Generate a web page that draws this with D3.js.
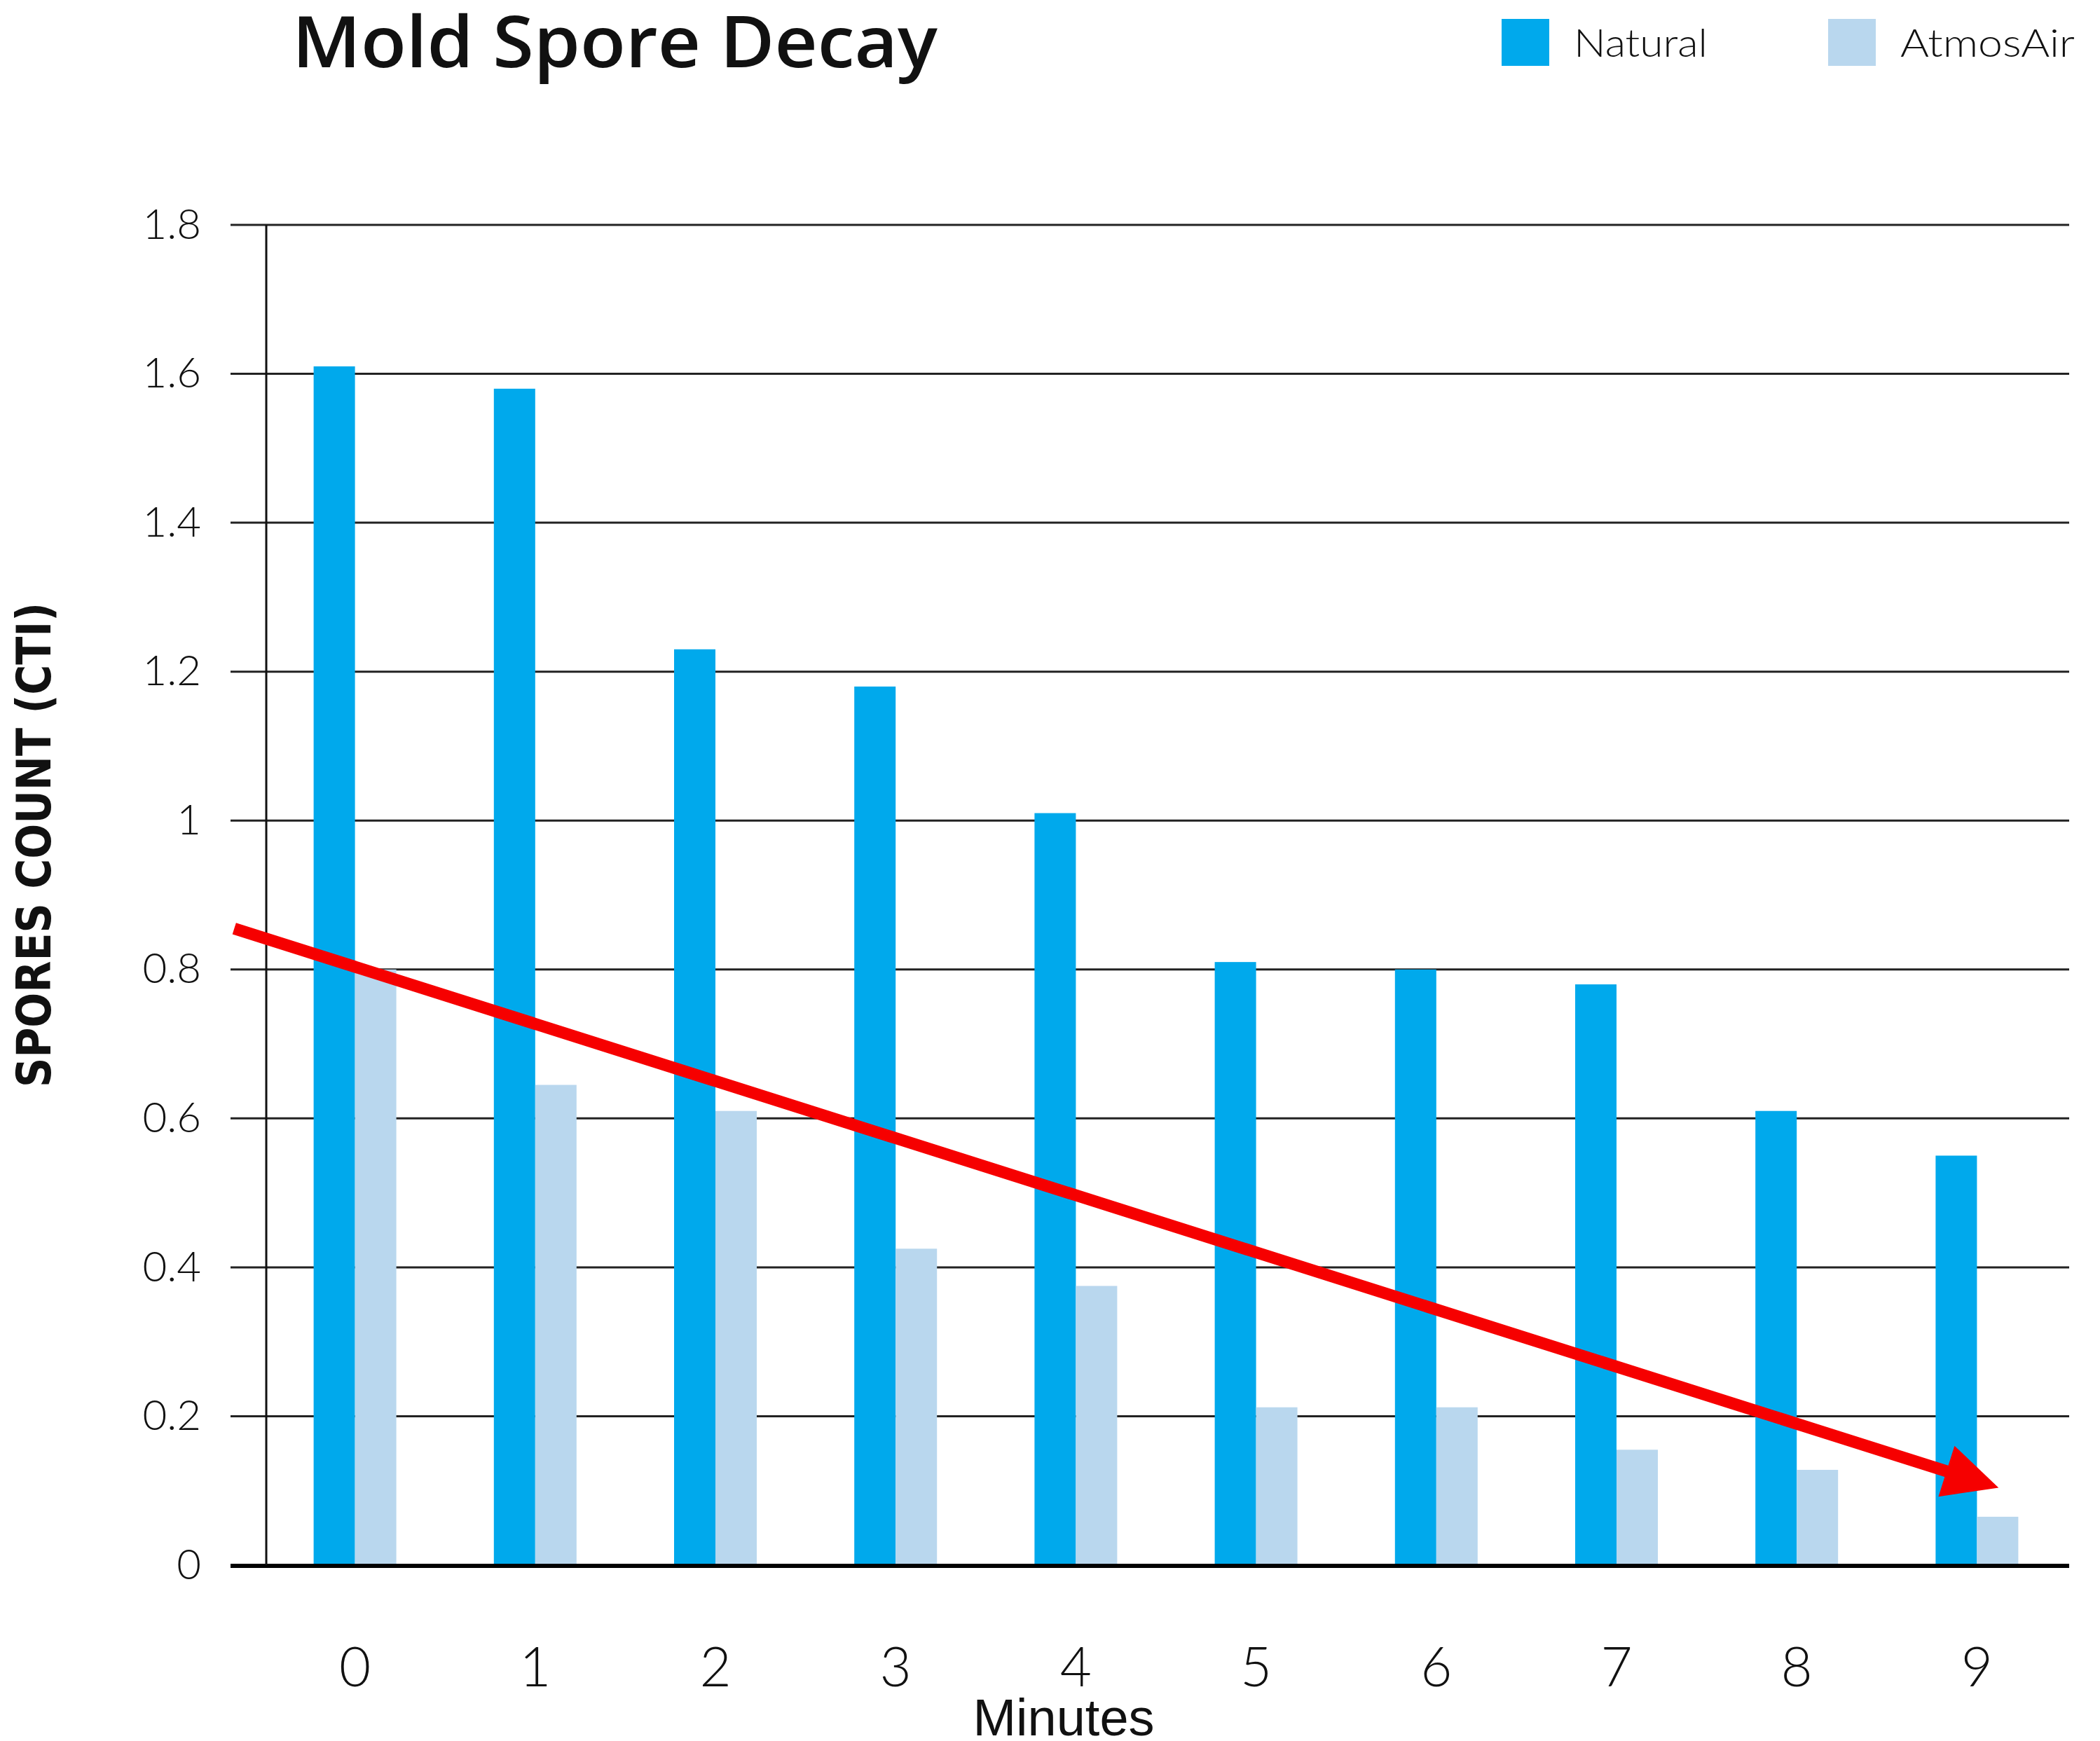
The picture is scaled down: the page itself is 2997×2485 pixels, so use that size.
<!DOCTYPE html>
<html>
<head>
<meta charset="utf-8">
<script src="https://cdn.jsdelivr.net/npm/d3@7"></script>
<style>
  html, body { margin: 0; padding: 0; background: #fff; }
  #plot { width: 2997px; height: 2485px; }
</style>
</head>
<body>
<div id="plot"></div>
<script>
// data
var minutes = ['0','1','2','3','4','5','6','7','8','9'];
var natural = [1.61, 1.58, 1.23, 1.18, 1.01, 0.81, 0.80, 0.78, 0.61, 0.55];
var atmosAir = [0.80, 0.645, 0.61, 0.425, 0.375, 0.212, 0.212, 0.155, 0.128, 0.065];
var yTicks = [0, 0.2, 0.4, 0.6, 0.8, 1, 1.2, 1.4, 1.6, 1.8];
var yTickLabels = ['0','0.2','0.4','0.6','0.8','1','1.2','1.4','1.6','1.8'];
var seriesNames = ['Natural', 'AtmosAir'];
// red trend arrow, in (minute, value) units
var trend = [{m: -0.67, v: 0.855}, {m: 9.12, v: 0.104}];

var w = 2997, h = 2485;
var colors = {Natural: '#00a9ec', AtmosAir: '#b9d7ee'};

var svg = d3.select('#plot').append('svg')
    .attr('width', w)
    .attr('height', h);

var plotLeft = 380, plotRight = 2953, plotTop = 321, plotBottom = 2234;

var y = d3.scaleLinear()
    .domain([0, 1.8])
    .range([plotBottom, plotTop]);

var x = d3.scaleBand()
    .domain(minutes)
    .range([378, 2950])
    .padding(0);

var barW = 59;
var xInner = d3.scaleBand()
    .domain(seriesNames)
    .range([x.bandwidth()/2 - barW, x.bandwidth()/2 + barW]);

var xLin = d3.scaleLinear()
    .domain([0, 9])
    .range([x('0') + x.bandwidth()/2, x('9') + x.bandwidth()/2]);

//gridlines
svg.append('g')
    .attr('class','grid')
    .selectAll('line')
    .data(yTicks)
    .enter()
    .append('line')
    .attr('x1', 329)
    .attr('x2', plotRight)
    .attr('y1', function(d){return y(d)})
    .attr('y2', function(d){return y(d)})
    .style('stroke', '#222')
    .style('stroke-width', 3);

//bars
var rows = minutes.map(function(m, i){
    return {m: m, Natural: natural[i], AtmosAir: atmosAir[i]};
});

var groups = svg.append('g')
    .selectAll('.group')
    .data(rows)
    .enter()
    .append('g')
    .attr('class','group')
    .attr('transform', function(d){return 'translate(' + x(d.m) + ',0)'});

groups.selectAll('rect')
    .data(function(d){return seriesNames.map(function(s){return {s: s, v: d[s]}})})
    .enter()
    .append('rect')
    .attr('x', function(d){return xInner(d.s)})
    .attr('width', xInner.bandwidth())
    .attr('y', function(d){return y(d.v)})
    .attr('height', function(d){return y(0) - y(d.v)})
    .style('fill', function(d){return colors[d.s]});

// baseline on top of bars
svg.append('line')
    .attr('x1', 329).attr('x2', plotRight)
    .attr('y1', y(0) + 1).attr('y2', y(0) + 1)
    .style('stroke', '#000')
    .style('stroke-width', 6);

// vertical axis line
svg.append('line')
    .attr('x1', plotLeft).attr('x2', plotLeft)
    .attr('y1', y(1.8)).attr('y2', y(0))
    .style('stroke', '#111')
    .style('stroke-width', 3);

// y axis labels
var yAxis = d3.axisLeft(y)
    .tickValues(yTicks)
    .tickFormat(function(d, i){return yTickLabels[i]})
    .tickSize(0)
    .tickPadding(93);

var gy = svg.append('g')
    .attr('transform', 'translate(' + plotLeft + ',0)')
    .call(yAxis);
gy.select('.domain').remove();
gy.selectAll('text')
    .style('font-family', 'Lato, "Open Sans", sans-serif')
    .style('font-weight', 300)
    .style('font-size', '60px')
    .style('fill', '#111');

// x axis labels
var xAxis = d3.axisBottom(x).tickSize(0).tickPadding(118);
var gx = svg.append('g')
    .attr('transform', 'translate(0,' + plotBottom + ')')
    .call(xAxis);
gx.select('.domain').remove();
gx.selectAll('text')
    .style('font-family', 'Lato, "Open Sans", sans-serif')
    .style('font-weight', 300)
    .style('font-size', '78px')
    .style('fill', '#111');

// trend arrow
var p0 = [xLin(trend[0].m), y(trend[0].v)],
    p1 = [xLin(trend[1].m), y(trend[1].v)];
var dx = p1[0] - p0[0], dy = p1[1] - p0[1], len = Math.sqrt(dx*dx + dy*dy);
var ux = dx/len, uy = dy/len;
var headL = 78, headW = 38;
var base = [p1[0] - ux*headL, p1[1] - uy*headL];

svg.append('line')
    .attr('x1', p0[0]).attr('y1', p0[1])
    .attr('x2', base[0] + ux*4).attr('y2', base[1] + uy*4)
    .style('stroke', '#f60000')
    .style('stroke-width', 17);

svg.append('path')
    .attr('d', 'M' + p1[0] + ',' + p1[1] +
        'L' + (base[0] - uy*headW) + ',' + (base[1] + ux*headW) +
        'L' + (base[0] + uy*headW) + ',' + (base[1] - ux*headW) + 'Z')
    .style('fill', '#f60000');

// titles
svg.append('text')
    .attr('x', 417)
    .attr('y', 96)
    .attr('textLength', 921)
    .attr('lengthAdjust', 'spacingAndGlyphs')
    .style('font-family', '"Open Sans", sans-serif')
    .style('font-weight', 600)
    .style('font-size', '101px')
    .style('fill', '#111')
    .text('Mold Spore Decay');

svg.append('text')
    .attr('transform', 'translate(72,1206) rotate(-90)')
    .attr('text-anchor', 'middle')
    .attr('textLength', 692)
    .attr('lengthAdjust', 'spacingAndGlyphs')
    .style('font-family', '"Liberation Sans Narrow", "DejaVu Sans Condensed", sans-serif')
    .style('font-weight', 700)
    .style('font-size', '68px')
    .style('fill', '#111')
    .text('SPORES COUNT (CTI)');

svg.append('text')
    .attr('x', 1518)
    .attr('y', 2477)
    .attr('text-anchor', 'middle')
    .style('font-family', '"Liberation Sans", Arial, sans-serif')
    .style('font-size', '74px')
    .style('fill', '#111')
    .text('Minutes');

// legend
var legend = svg.append('g')
    .selectAll('.legend')
    .data(seriesNames)
    .enter()
    .append('g')
    .attr('class','legend')
    .attr('transform', function(d, i){return 'translate(' + [2143, 2609][i] + ',27)'});

legend.append('rect')
    .attr('width', 68)
    .attr('height', 67)
    .style('fill', function(d){return colors[d]});

legend.append('text')
    .attr('x', 103)
    .attr('y', 54)
    .attr('textLength', function(d, i){return [191, 249][i]})
    .attr('lengthAdjust', 'spacingAndGlyphs')
    .style('font-family', 'Lato, "Open Sans", sans-serif')
    .style('font-weight', 300)
    .style('font-size', '56px')
    .style('fill', '#111')
    .text(function(d){return d});
</script>
</body>
</html>
